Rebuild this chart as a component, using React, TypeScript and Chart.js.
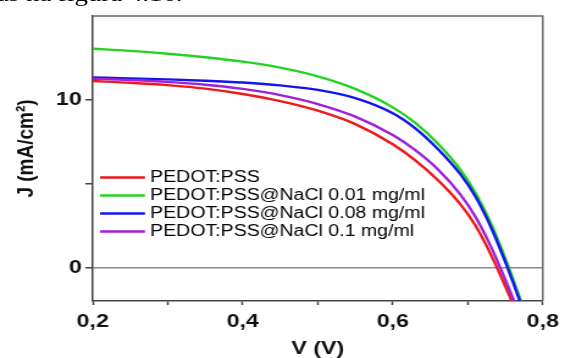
import React, { useEffect, useRef } from "react";
import { Chart, registerables } from "chart.js";

Chart.register(...registerables);

// Voltage (V) sample points shared by all curves
const voltage = [0.2, 0.25, 0.3, 0.35, 0.4, 0.45, 0.5, 0.55, 0.6, 0.63, 0.66, 0.69, 0.71, 0.73, 0.75, 0.77, 0.78];
// Current density J (mA/cm²)
const jPedotPss = [11.12, 11.02, 10.88, 10.67, 10.35, 9.92, 9.35, 8.55, 7.35, 6.39, 5.22, 3.78, 2.52, 0.84, -1.12, -3.2, -4.28];
const jNaCl001 = [13.05, 12.92, 12.75, 12.54, 12.28, 11.92, 11.4, 10.65, 9.55, 8.62, 7.39, 5.83, 4.47, 2.71, 0.55, -1.89, -3.17];
const jNaCl008 = [11.33, 11.28, 11.22, 11.14, 11.03, 10.86, 10.59, 10.1, 9.2, 8.3, 7.07, 5.57, 4.25, 2.49, 0.33, -2.07, -3.3];
const jNaCl01 = [11.26, 11.18, 11.07, 10.9, 10.65, 10.28, 9.75, 9.0, 7.9, 7.0, 5.86, 4.36, 3.04, 1.32, -0.72, -2.92, -4.02];

const seriesLabels = [
  "PEDOT:PSS",
  "PEDOT:PSS@NaCl 0.01 mg/ml",
  "PEDOT:PSS@NaCl 0.08 mg/ml",
  "PEDOT:PSS@NaCl 0.1 mg/ml",
];
const seriesColors = ["#f01818", "#22d422", "#1414f0", "#a020d8"];

const xTicks = [0.2, 0.3, 0.4, 0.5, 0.6, 0.7, 0.8];
const xLabelTicks = [0.2, 0.4, 0.6, 0.8];
const yTicks = [0, 5, 10];
const yLabelTicks = [0, 10];

const xTitle = "V (V)";
const yTitle = "J (mA/cm²)";
const topText = "as na figura 4.16.";

const W = 463;
const H = 358;
const SX = 565 / W;
const FONT = "'Liberation Sans', Arial, Helvetica, sans-serif";

export default function App() {
  const ref = useRef<HTMLCanvasElement>(null);

  useEffect(() => {
    const canvas = ref.current!;
    const allSeries = [jPedotPss, jNaCl001, jNaCl008, jNaCl01];
    const datasets = allSeries.map((vals, i) => ({
      label: seriesLabels[i],
      data: voltage.map((v, k) => ({ x: v, y: vals[k] })),
      borderColor: seriesColors[i],
      backgroundColor: seriesColors[i],
      borderWidth: 2.4,
      pointRadius: 0,
      fill: false,
      cubicInterpolationMode: "monotone" as const,
      clip: 0,
      order: 3 - i,
    }));

    const overlay = {
      id: "overlay",
      afterDraw(chart: any) {
        const ctx = chart.ctx;
        const a = chart.chartArea;
        ctx.save();
        // top & right frame
        ctx.strokeStyle = "#6a6a6a";
        ctx.lineWidth = 1.5;
        ctx.beginPath();
        ctx.moveTo(a.left, a.top);
        ctx.lineTo(a.right, a.top);
        ctx.lineTo(a.right, a.bottom);
        ctx.stroke();

        // legend
        const rowsY = [177.5, 195.5, 213.5, 231.5];
        ctx.font = `16px ${FONT}`;
        ctx.textBaseline = "middle";
        ctx.textAlign = "left";
        seriesLabels.forEach((lab, i) => {
          ctx.strokeStyle = seriesColors[i];
          ctx.lineWidth = 2.4;
          ctx.beginPath();
          ctx.moveTo(82, rowsY[i]);
          ctx.lineTo(118.8, rowsY[i]);
          ctx.stroke();
          ctx.fillStyle = "#000";
          ctx.fillText(lab, 123, rowsY[i] + 0.5);
        });

        // axis titles
        ctx.fillStyle = "#111";
        ctx.font = `bold 19px ${FONT}`;
        ctx.textAlign = "center";
        ctx.textBaseline = "middle";
        ctx.fillText(xTitle, (a.left + a.right) / 2, 349);
        ctx.save();
        ctx.translate(21.7, 148.5);
        ctx.rotate(-Math.PI / 2);
        ctx.fillText(yTitle, 0, 0);
        ctx.restore();
        ctx.restore();
      },
    };

    const chart = new Chart(canvas, {
      type: "line",
      data: { datasets },
      options: {
        responsive: false,
        animation: false,
        events: [],
        layout: { padding: { left: 0, right: 13, top: 16, bottom: 0 } },
        plugins: {
          legend: { display: false },
          tooltip: { enabled: false },
          title: { display: false },
        },
        scales: {
          x: {
            type: "linear",
            min: 0.2,
            max: 0.8,
            afterBuildTicks: (s: any) => {
              s.ticks = xTicks.map((v) => ({ value: v }));
            },
            afterFit: (s: any) => {
              s.height = 57;
            },
            ticks: {
              autoSkip: false,
              maxRotation: 0,
              padding: 5,
              color: "#111",
              font: { family: FONT, size: 19, weight: "bold" },
              callback: (v: any) =>
                xLabelTicks.some((t) => Math.abs(t - v) < 1e-9)
                  ? Number(v).toFixed(1).replace(".", ",")
                  : "",
            },
            grid: {
              drawOnChartArea: false,
              drawTicks: true,
              tickLength: 4,
              tickColor: "#444",
              tickWidth: 1.5,
            },
            border: { display: true, color: "#444", width: 1.5 },
          },
          y: {
            type: "linear",
            min: -2,
            max: 15,
            afterBuildTicks: (s: any) => {
              s.ticks = yTicks.map((v) => ({ value: v }));
            },
            afterFit: (s: any) => {
              s.width = 76;
            },
            ticks: {
              autoSkip: false,
              padding: 3,
              color: "#111",
              font: { family: FONT, size: 19, weight: "bold" },
              callback: (v: any) => (yLabelTicks.includes(Number(v)) ? String(v) : ""),
            },
            grid: {
              drawOnChartArea: true,
              color: (c: any) => (c.tick && c.tick.value === 0 ? "#8a8a8a" : "rgba(0,0,0,0)"),
              lineWidth: 1.5,
              drawTicks: true,
              tickLength: 6,
              tickColor: "#444",
              tickWidth: 1.5,
            },
            border: { display: true, color: "#444", width: 1.5 },
          },
        },
      },
      plugins: [overlay],
    } as any);

    return () => chart.destroy();
  }, []);

  return (
    <div
      style={{
        position: "absolute",
        left: 0,
        top: 0,
        width: W,
        height: H,
        transform: `scaleX(${SX})`,
        transformOrigin: "0 0",
        background: "#fff",
      }}
    >
      <canvas ref={ref} width={W} height={H} style={{ display: "block" }} />
      <div
        style={{
          position: "absolute",
          left: -2.5,
          top: -17.5,
          font: "22px 'Liberation Serif', 'Times New Roman', serif",
          lineHeight: "22px",
          whiteSpace: "nowrap",
          color: "#000",
        }}
      >
        {topText}
      </div>
    </div>
  );
}
